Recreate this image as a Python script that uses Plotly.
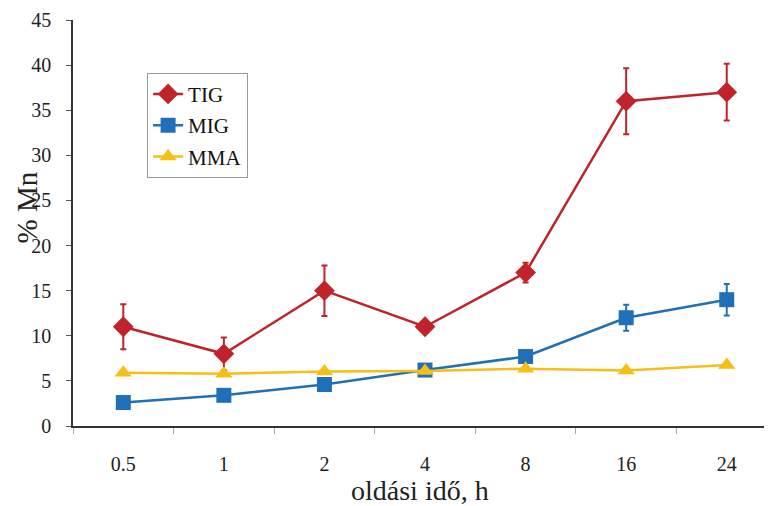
import plotly.graph_objects as go

categories = ["0.5", "1", "2", "4", "8", "16", "24"]
tig = [11, 8, 15, 11, 17, 36, 37]
tig_err = [2.5, 1.8, 2.8, 0, 1.1, 3.65, 3.15]
mig = [2.6, 3.4, 4.6, 6.2, 7.7, 12.0, 14.0]
mig_err = [0, 0, 0, 0, 0, 1.45, 1.75]
mma = [5.9, 5.8, 6.05, 6.1, 6.35, 6.15, 6.75]
y_ticks = [0, 5, 10, 15, 20, 25, 30, 35, 40, 45]

c_tig = "#C1232B"
c_mig = "#2070B8"
c_mma = "#F7BE16"
font_fam = "Liberation Serif, Times New Roman, serif"

fig = go.Figure()
fig.add_trace(go.Scatter(
    x=categories, y=tig, name="TIG", mode="lines+markers", legendgroup="a",
    line=dict(color=c_tig, width=2.5),
    marker=dict(symbol="diamond", size=16, color=c_tig),
    error_y=dict(type="data", array=tig_err, visible=True, color=c_tig, thickness=2, width=3),
))
fig.add_trace(go.Scatter(
    x=categories, y=mig, name="MIG", mode="lines+markers", legendgroup="b",
    line=dict(color=c_mig, width=2.5),
    marker=dict(symbol="square", size=15, color=c_mig),
    error_y=dict(type="data", array=mig_err, visible=True, color=c_mig, thickness=2, width=3),
))
fig.add_trace(go.Scatter(
    x=categories, y=mma, name="MMA", mode="lines+markers", legendgroup="c",
    line=dict(color=c_mma, width=2.5),
    marker=dict(symbol="triangle-up", size=15, color=c_mma),
))

fig.update_layout(
    width=764, height=498,
    margin=dict(l=65, r=0, t=12, b=80),
    paper_bgcolor="white", plot_bgcolor="white",
    font=dict(family=font_fam, size=20, color="#222222"),
    showlegend=True,
    legend=dict(
        x=0.106, y=0.87, xanchor="left", yanchor="top",
        bordercolor="#9a9a9a", borderwidth=1, bgcolor="white",
        font=dict(family=font_fam, size=21, color="#111111"),
        tracegroupgap=1, itemwidth=30,
    ),
    xaxis=dict(
        type="category", range=[-0.5, 6.45], automargin=False,
        showline=True, linecolor="#333333", linewidth=1.5,
        ticks="outside", tickson="boundaries", ticklen=6, tickcolor="#aaaaaa",
        showgrid=False, zeroline=False,
        tickfont=dict(size=20), ticklabelstandoff=19,
    ),
    yaxis=dict(
        range=[0, 45], tickvals=y_ticks, automargin=False,
        showline=True, linecolor="#333333", linewidth=1.5,
        ticks="outside", ticklen=5, tickcolor="#555555",
        showgrid=False, zeroline=False, ticklabeloverflow="allow",
        tickfont=dict(size=20), ticklabelstandoff=11,
    ),
    annotations=[
        dict(text="oldási idő, h", xref="paper", yref="paper", x=0.496, y=-0.158,
             xanchor="center", yanchor="middle", showarrow=False,
             font=dict(family=font_fam, size=28, color="#222222")),
        dict(text="% Mn", xref="paper", yref="paper", x=-0.066, y=0.538,
             xanchor="center", yanchor="middle", textangle=-90, showarrow=False,
             font=dict(family=font_fam, size=29, color="#222222")),
    ],
)

fig.write_html("out.html")
